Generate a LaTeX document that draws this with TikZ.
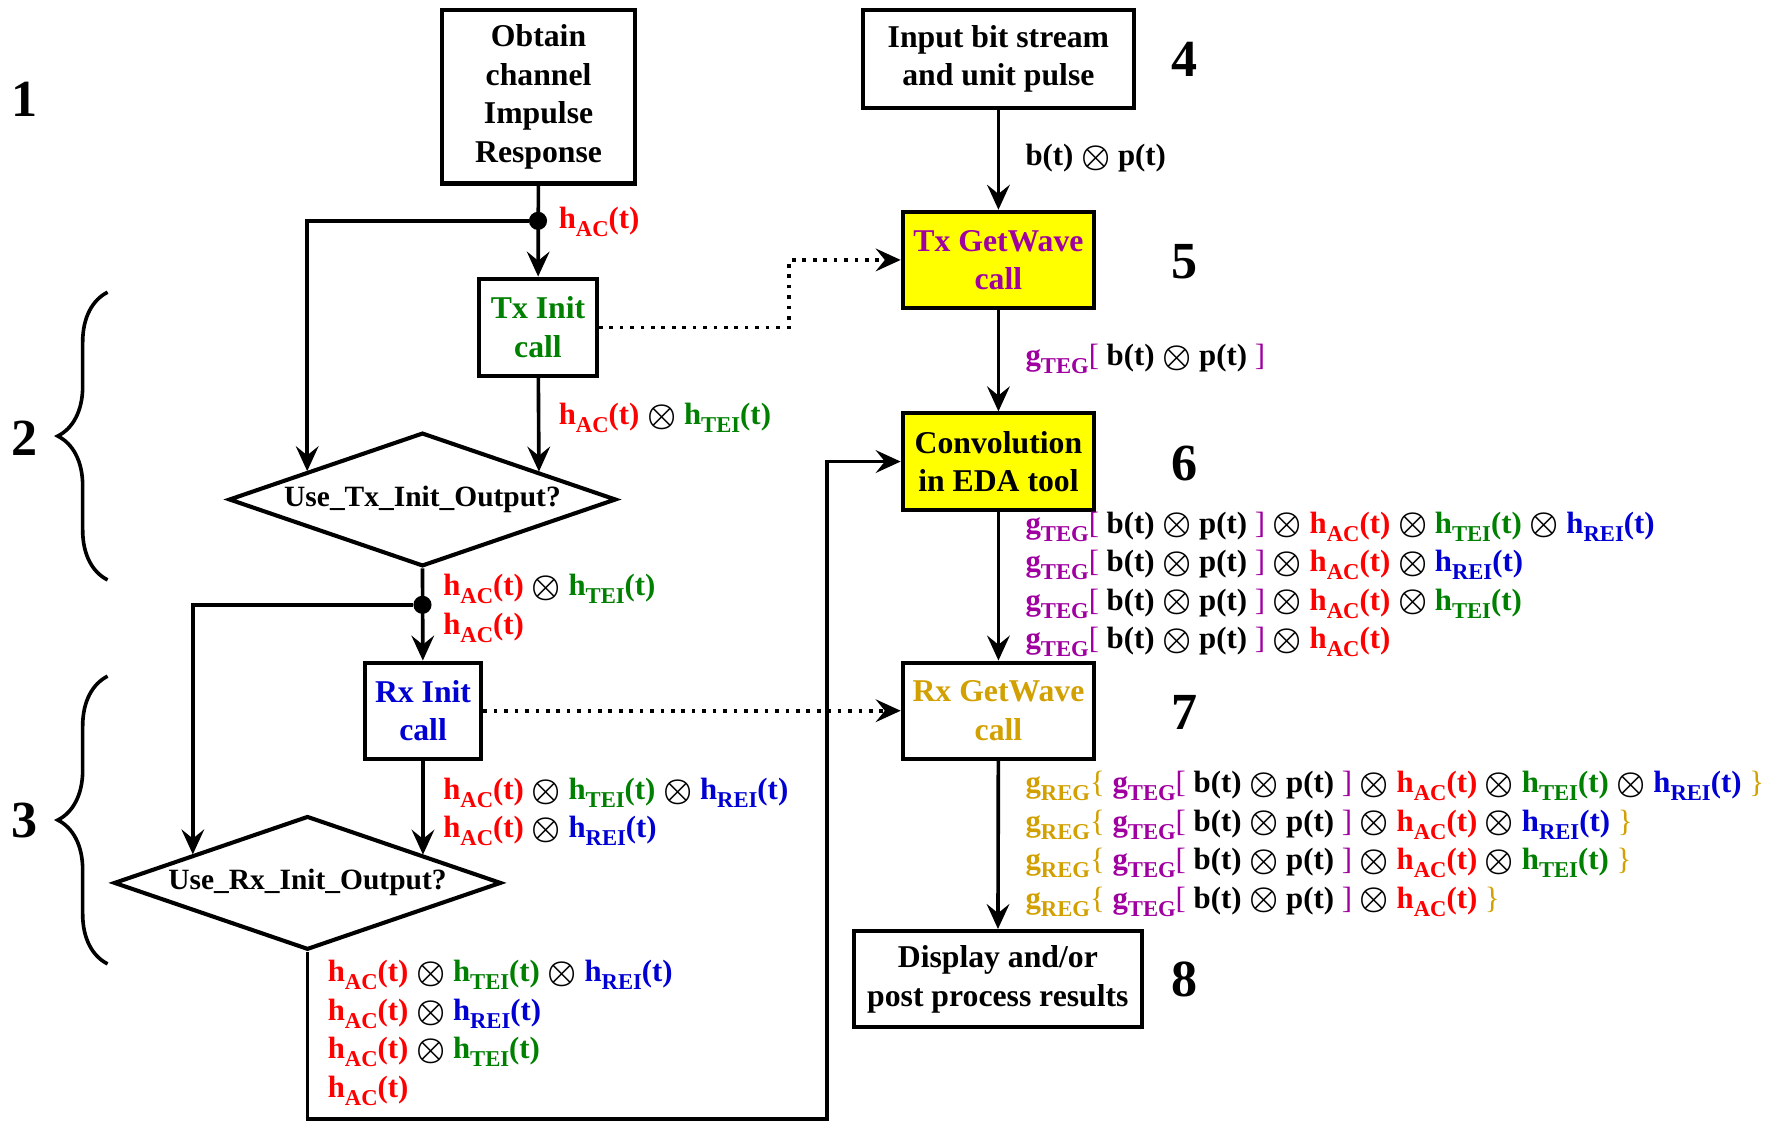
\documentclass[tikz,border=0pt]{standalone}
\usepackage{amsmath,amssymb}
\usepackage{fontspec}
\setmainfont{Liberation Serif}
\usepackage{xcolor}
\usepackage{graphicx}
\definecolor{hred}{RGB}{255,0,0}
\definecolor{hgreen}{RGB}{0,128,0}
\definecolor{hblue}{RGB}{0,0,210}
\definecolor{gpurple}{RGB}{160,0,160}
\definecolor{ggold}{RGB}{210,160,0}
\definecolor{boxyellow}{RGB}{255,255,0}
\usetikzlibrary{shapes.geometric,arrows.meta,decorations.pathreplacing,calc}
\newcommand{\boxfont}{\fontsize{14}{17}\selectfont\bfseries}
\newcommand{\diafont}{\fontsize{13}{17}\selectfont\bfseries}
\newcommand{\sigfont}{\fontsize{13.6}{17}\selectfont\bfseries}
\newcommand{\idx}[1]{\raisebox{-3.5pt}{\fontsize{10}{10}\selectfont #1}}
\newcommand{\ox}{~\raisebox{-0.3pt}{$\boldsymbol{\otimes}$}~}
\newcommand{\hAC}{\textcolor{hred}{h\idx{AC}(t)}}
\newcommand{\hTEI}{\textcolor{hgreen}{h\idx{TEI}(t)}}
\newcommand{\hREI}{\textcolor{hblue}{h\idx{REI}(t)}}
\newcommand{\bp}{b(t)\ox p(t)}
\newcommand{\gTEG}[1]{\textcolor{gpurple}{g\idx{TEG}{\mdseries[}}~#1~\textcolor{gpurple}{\mdseries]}}
\newcommand{\gREG}[1]{\textcolor{ggold}{g\idx{REG}{\mdseries\{}}~#1~\textcolor{ggold}{\mdseries\}}}
\tikzstyle{block} = [rectangle, draw, line width=1.8pt, align=center,
  inner sep=0pt, font=\boxfont]

\begin{document}
\begin{tikzpicture}[x=50pt, y=50pt]
\tikzstyle{decision} = [diamond, draw, line width=1.8pt, aspect=2.9,
  inner sep=0pt, minimum width=171pt, minimum height=59pt, font=\diafont]
\tikzstyle{flow} = [line width=1.6pt, -{Stealth[length=11pt,width=10pt,inset=4pt]}]
\tikzstyle{link} = [line width=1.6pt, dash pattern=on 1.6pt off 3pt,
  -{Stealth[length=11pt,width=10pt,inset=4pt]}]
\tikzstyle{joint} = [circle, fill=black, inner sep=0pt, minimum size=8pt]
\tikzstyle{sig} = [anchor=west, inner sep=0pt, align=left, font=\sigfont]
\tikzstyle{stagenum} = [inner sep=0pt, font=\fontsize{23}{27}\selectfont\bfseries]
  \useasboundingbox (0,0) rectangle (15.68,9.91);
  % left column: channel and init calls
  \node[block, minimum width=85.5pt, minimum height=76.5pt] (obtain) at (4.755, 9.055)
    {Obtain\\channel\\Impulse\\Response};
  \node[joint] (dot1) at (4.75, 7.96) {};
  \node[block, minimum width=52pt, minimum height=43pt, text=hgreen] (txinit) at (4.75, 7.02)
    {Tx Init\\call};
  \node[decision] (txdia) at (3.73, 5.50) {Use\_Tx\_Init\_Output?};
  \node[joint] (dot2) at (3.73, 4.57) {};
  \node[block, minimum width=51.5pt, minimum height=42.5pt, text=hblue] (rxinit) at (3.735, 3.635)
    {Rx Init\\call};
  \node[decision] (rxdia) at (2.715, 2.115) {Use\_Rx\_Init\_Output?};
  % right column: waveform chain
  \node[block, minimum width=119.5pt, minimum height=43pt] (input) at (8.815, 9.39)
    {Input bit stream\\and unit pulse};
  \node[block, fill=boxyellow, minimum width=84.5pt, minimum height=42.5pt, text=gpurple] (txwave) at (8.815, 7.615)
    {Tx GetWave\\call};
  \node[block, fill=boxyellow, minimum width=84.5pt, minimum height=42.5pt] (conv) at (8.815, 5.835)
    {Convolution\\in EDA tool};
  \node[block, minimum width=84.5pt, minimum height=42.5pt, text=ggold] (rxwave) at (8.815, 3.635)
    {Rx GetWave\\call};
  \node[block, minimum width=127pt, minimum height=42.5pt] (display) at (8.81, 1.265)
    {Display and/or\\post process results};
  % stage numbers
  \node[stagenum] (n1) at (0.22, 9.03) {1};
  \node[stagenum] (n2) at (0.22, 6.04) {2};
  \node[stagenum] (n3) at (0.22, 2.67) {3};
  \node[stagenum] (n4) at (10.46, 9.39) {4};
  \node[stagenum] (n5) at (10.46, 7.60) {5};
  \node[stagenum] (n6) at (10.46, 5.82) {6};
  \node[stagenum] (n7) at (10.46, 3.62) {7};
  \node[stagenum] (n8) at (10.46, 1.26) {8};
  \draw[line width=1.6pt, decorate, decoration={brace, amplitude=22pt}] (0.95, 4.79) -- (0.95, 7.33);
  \draw[line width=1.6pt, decorate, decoration={brace, amplitude=22pt}] (0.95, 1.40) -- (0.95, 3.94);
  % connectors
  \draw[flow] (obtain) -- (txinit);
  \draw[flow] (dot1) -| ($(txdia.west)!0.411!(txdia.north)$);
  \draw[flow] (txinit) -- ($(txdia.north)!0.595!(txdia.east)$);
  \draw[flow] (txdia.south) -- (rxinit);
  \draw[flow] (dot2) -| ($(rxdia.west)!0.414!(rxdia.north)$);
  \draw[flow] (rxinit) -- ($(rxdia.north)!0.59!(rxdia.east)$);
  \draw[flow] (rxdia.south) |- (7.30, 0.03) |- (conv.west);
  \draw[flow] (input) -- (txwave);
  \draw[flow] (txwave) -- (conv);
  \draw[flow] (conv) -- (rxwave);
  \draw[flow] (rxwave) -- (display);
  \draw[link] (txinit.east) -- ++(1.68, 0) |- (txwave.west);
  \draw[link] (rxinit.east) -- (rxwave.west);
  % signal labels
  \node[sig] (s1) at (4.93, 7.95) {\hAC};
  \node[sig] (s2) at (4.93, 6.22) {\hAC\ox\hTEI};
  \node[sig] (s3) at (3.91, 4.54) {\hAC\ox\hTEI\\\hAC};
  \node[sig] (s4) at (3.91, 2.74) {\hAC\ox\hTEI\ox\hREI\\\hAC\ox\hREI};
  \node[sig] (s5) at (2.89, 0.79) {\hAC\ox\hTEI\ox\hREI\\\hAC\ox\hREI\\\hAC\ox\hTEI\\\hAC};
  \node[sig] (s6) at (9.05, 8.51) {\bp};
  \node[sig] (s7) at (9.05, 6.74) {\gTEG{\bp}};
  \node[sig] (s8) at (9.05, 4.75) {\gTEG{\bp}\ox\hAC\ox\hTEI\ox\hREI\\
    \gTEG{\bp}\ox\hAC\ox\hREI\\
    \gTEG{\bp}\ox\hAC\ox\hTEI\\
    \gTEG{\bp}\ox\hAC};
  \node[sig] (s9) at (9.05, 2.46) {\gREG{\gTEG{\bp}\ox\hAC\ox\hTEI\ox\hREI}\\
    \gREG{\gTEG{\bp}\ox\hAC\ox\hREI}\\
    \gREG{\gTEG{\bp}\ox\hAC\ox\hTEI}\\
    \gREG{\gTEG{\bp}\ox\hAC}};
\end{tikzpicture}
\end{document}
